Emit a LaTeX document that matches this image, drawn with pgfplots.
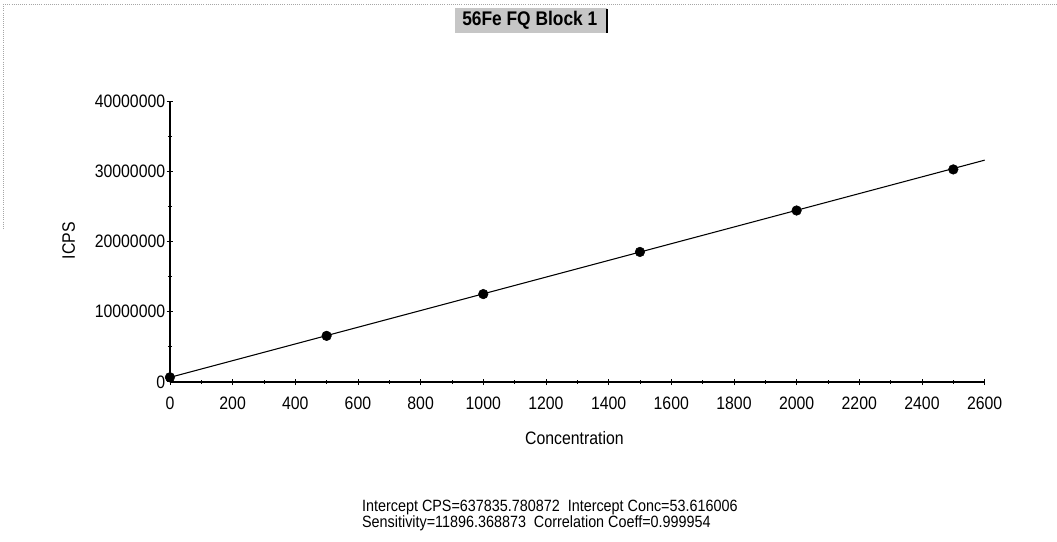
\documentclass[border=0pt]{standalone}
\usepackage{pgfplots}
\pgfplotsset{compat=1.18}
\usepackage{fontspec}
\setmainfont{Liberation Sans}[FakeStretch=0.88]
\begin{document}
\begin{tikzpicture}
\path (0pt,0pt) rectangle (792.75pt,406.5pt);
\draw[gray!70,densely dotted,line width=0.6pt] (2.25pt,403.5pt) -- (792.75pt,403.5pt);
\draw[gray!70,densely dotted,line width=0.6pt] (2.25pt,403.5pt) -- (2.25pt,234pt);
% title box
\fill[gray!45] (341.25pt,381.75pt) rectangle (455.25pt,400.5pt);
\draw[black,line width=1.3pt] (455.25pt,381.75pt) -- (455.25pt,400pt);
\node[font=\fontsize{14.8}{17}\selectfont\bfseries] at (397.5pt,391pt) {56Fe FQ Block 1};
\begin{axis}[
  at={(127.5pt,120pt)}, anchor=origin,
  scale only axis, width=611.25pt, height=210.75pt,
  xmin=0, xmax=2600, ymin=0, ymax=40000000,
  axis x line=bottom, axis y line=left,
  axis line style={-, line width=1.1pt},
  xtick={0,200,...,2600},
  ytick={0,10000000,20000000,30000000,40000000},
  yticklabels={0,10000000,20000000,30000000,40000000},
  minor x tick num=1, minor y tick num=1,
  scaled y ticks=false,
  tick align=center,
  major tick length=5pt, minor tick length=3pt,
  tick style={line width=0.6pt, black},
  /pgf/number format/assume math mode=true,
  /pgf/number format/.cd, set thousands separator={}, fixed, /pgfplots/.cd,
  tick label style={font=\fontsize{13.5}{15}\selectfont},
  xticklabel style={yshift=-5pt},
  yticklabel style={xshift=2.5pt},
  clip=false,
]
\addplot[black, line width=0.8pt, no marks] coordinates {(0,637835.78) (2600,31568394.85)};
\addplot[only marks, mark=*, mark size=3.6pt, black] coordinates {
(0,650000) (500,6550000) (1000,12500000) (1500,18500000) (2000,24400000) (2500,30250000)};
\end{axis}
\node[font=\fontsize{13.5}{15}\selectfont] at (431pt,78pt) {Concentration};
\node[font=\fontsize{13.5}{15}\selectfont, rotate=90] at (51.5pt,225.75pt) {ICPS};
\node[font=\fontsize{12.25}{14}\selectfont, anchor=north west, align=left, inner sep=0pt] at (271.5pt,31.5pt) {Intercept CPS=637835.780872\ \ Intercept Conc=53.616006\\[-2pt]Sensitivity=11896.368873\ \ Correlation Coeff=0.999954};
\end{tikzpicture}
\end{document}
